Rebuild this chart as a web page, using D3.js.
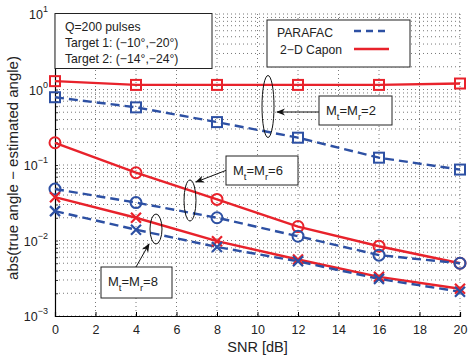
<!DOCTYPE html>
<html><head><meta charset="utf-8">
<script src="https://cdn.jsdelivr.net/npm/d3@7"></script>
<style>body{margin:0;background:#fff}svg{display:block;font-family:"Liberation Sans",Arial,sans-serif}</style>
</head><body><svg id="c" width="468" height="358"></svg>
<script>
const snr = [0, 4, 8, 12, 16, 20];
const xTicks = [0, 2, 4, 6, 8, 10, 12, 14, 16, 18, 20];
const yTickExp = [-3, -2, -1, 0, 1];
const caponM2 = [1.29, 1.15, 1.15, 1.15, 1.15, 1.2];
const parafacM2 = [0.79, 0.58, 0.37, 0.23, 0.125, 0.087];
const caponM6 = [0.197, 0.079, 0.035, 0.0153, 0.0084, 0.005];
const parafacM6 = [0.048, 0.0318, 0.020, 0.0114, 0.0064, 0.005];
const caponM8 = [0.0375, 0.020, 0.0098, 0.0056, 0.0033, 0.0023];
const parafacM8 = [0.0245, 0.0139, 0.0082, 0.0053, 0.0031, 0.0021];
const legendLabels = ["PARAFAC", "2\u2212D Capon"];
const infoLines = ["Q=200 pulses", "Target 1: (\u221210\u00b0,\u221220\u00b0)", "Target 2: (\u221214\u00b0,\u221224\u00b0)"];
const annoValues = ["2", "6", "8"];

const RED = "#e8222b", BLUE = "#2d50a3";
const L = 55, R = 460, T = 14, B = 316;
const svg = d3.select("#c");
const x = d3.scaleLinear().domain([0, 20]).range([L, R]);
const y = d3.scaleLog().domain([1e-3, 10]).range([B, T]);

// grid
const g = svg.append("g");
const minorY = [];
for (let e = -3; e < 1; e++) for (let k = 1; k < 10; k++) minorY.push(k * Math.pow(10, e));
minorY.push(10);
g.selectAll("line.gy").data(minorY).enter().append("line")
  .attr("x1", L).attr("x2", R).attr("y1", d => y(d)).attr("y2", d => y(d))
  .attr("stroke", "#555").attr("stroke-width", 0.8).attr("stroke-dasharray", "1,3");
g.selectAll("line.gx").data(xTicks.slice(1)).enter().append("line")
  .attr("y1", T).attr("y2", B).attr("x1", d => x(d)).attr("x2", d => x(d))
  .attr("stroke", "#555").attr("stroke-width", 0.8).attr("stroke-dasharray", "1,3");

// axes
const xa = svg.append("g").attr("transform", `translate(0,${B})`)
  .call(d3.axisBottom(x).tickValues(xTicks).tickSize(-4).tickPadding(9).tickFormat(d3.format("d")));
xa.select(".domain").attr("stroke-width", 1.2);
xa.selectAll("text").attr("font-size", 12.5).attr("fill", "#222").attr("font-family", "Liberation Sans, Arial");
const ya = svg.append("g").attr("transform", `translate(${L},0)`)
  .call(d3.axisLeft(y).tickValues(minorY).tickSize(-3).tickFormat(""));
ya.select(".domain").attr("stroke-width", 1.2);
ya.selectAll(".tick line").attr("stroke-width", 0.8);
const yl = svg.append("g");
yTickExp.forEach(e => {
  const t = yl.append("text").attr("x", L - 7).attr("y", y(Math.pow(10, e)) + 5)
    .attr("text-anchor", "end").attr("fill", "#222").attr("font-size", 12.5);
  t.append("tspan").text("10");
  t.append("tspan").attr("dy", -7).attr("font-size", 9).text(e < 0 ? "\u2212" + (-e) : String(e));
});
svg.append("line").attr("x1", L).attr("x2", L + 4).attr("y1", T).attr("y2", T).attr("stroke", "#000");

svg.append("text").attr("transform", `translate(18,168) rotate(-90)`)
  .attr("text-anchor", "middle").attr("font-size", 15).attr("fill", "#222")
  .text("abs(true angle \u2212 estimated angle)");
svg.append("text").attr("x", (L + R) / 2).attr("y", 352).attr("text-anchor", "middle")
  .attr("font-size", 14.5).attr("fill", "#222").text("SNR [dB]");

// series
const series = [
  {v: caponM2, c: RED, dash: null, m: "square"},
  {v: parafacM2, c: BLUE, dash: "9,5", m: "square"},
  {v: caponM6, c: RED, dash: null, m: "circle"},
  {v: parafacM6, c: BLUE, dash: "9,5", m: "circle"},
  {v: caponM8, c: RED, dash: null, m: "x"},
  {v: parafacM8, c: BLUE, dash: "9,5", m: "x"}
];
const line = d3.line().x((d, i) => x(snr[i])).y(d => y(d));
const sg = svg.append("g");
series.forEach(s => {
  sg.append("path").datum(s.v).attr("d", line).attr("fill", "none")
    .attr("stroke", s.c).attr("stroke-width", 2.4).attr("stroke-dasharray", s.dash);
});
series.forEach(s => {
  const mg = sg.append("g");
  s.v.forEach((d, i) => {
    const cx = x(snr[i]), cy = y(d);
    if (s.m === "square") {
      mg.append("rect").attr("x", cx - 5).attr("y", cy - 5).attr("width", 10).attr("height", 10)
        .attr("fill", "none").attr("stroke", s.c).attr("stroke-width", 2);
    } else if (s.m === "circle") {
      mg.append("circle").attr("cx", cx).attr("cy", cy).attr("r", 5.5)
        .attr("fill", "none").attr("stroke", s.c).attr("stroke-width", 2);
    } else {
      mg.append("path").attr("d", `M${cx - 5},${cy - 5}L${cx + 5},${cy + 5}M${cx - 5},${cy + 5}L${cx + 5},${cy - 5}`)
        .attr("stroke", s.c).attr("stroke-width", 2.2);
    }
  });
});

// info box
const ib = svg.append("g");
ib.append("rect").attr("x", L).attr("y", 13.5).attr("width", 157).attr("height", 55)
  .attr("fill", "#fff").attr("stroke", "#222").attr("stroke-width", 1);
infoLines.forEach((t, i) => ib.append("text").attr("x", 65).attr("y", 31 + i * 16)
  .attr("font-size", 12.2).attr("fill", "#222").text(t));

// legend
const lg = svg.append("g");
lg.append("rect").attr("x", 267).attr("y", 20).attr("width", 143).attr("height", 47)
  .attr("fill", "#fff").attr("stroke", "#222").attr("stroke-width", 1);
lg.append("text").attr("x", 277).attr("y", 37).attr("font-size", 12.2).attr("fill", "#222").text(legendLabels[0]);
lg.append("text").attr("x", 280).attr("y", 54).attr("font-size", 12.2).attr("fill", "#222").text(legendLabels[1]);
lg.append("line").attr("x1", 354).attr("x2", 389).attr("y1", 31).attr("y2", 31)
  .attr("stroke", BLUE).attr("stroke-width", 2.4).attr("stroke-dasharray", "7,5");
lg.append("line").attr("x1", 354).attr("x2", 389).attr("y1", 49).attr("y2", 49)
  .attr("stroke", RED).attr("stroke-width", 2.4);

// annotations
svg.append("defs").append("marker").attr("id", "ah").attr("viewBox", "0 0 10 10")
  .attr("refX", 9).attr("refY", 5).attr("markerWidth", 9).attr("markerHeight", 9)
  .attr("orient", "auto").attr("markerUnits", "userSpaceOnUse")
  .append("path").attr("d", "M0,1L10,5L0,9L3,5Z").attr("fill", "#111");
const annos = [
  {bx: 319, by: 96, bw: 73, bh: 29, ex: 268, ey: 106.5, rx: 6, ry: 31, ax1: 319, ay1: 112, ax2: 277, ay2: 112},
  {bx: 226, by: 156, bw: 72, bh: 29, ex: 190, ey: 200.5, rx: 6, ry: 20.5, ax1: 227, ay1: 170, ax2: 196, ay2: 182},
  {bx: 101, by: 267, bw: 71, bh: 31, ex: 156, ey: 229, rx: 6, ry: 15, ax1: 136, ay1: 267, ax2: 149, ay2: 244}
];
annos.forEach((a, i) => {
  const ag = svg.append("g");
  ag.append("ellipse").attr("cx", a.ex).attr("cy", a.ey).attr("rx", a.rx).attr("ry", a.ry)
    .attr("fill", "none").attr("stroke", "#111").attr("stroke-width", 1);
  ag.append("line").attr("x1", a.ax1).attr("y1", a.ay1).attr("x2", a.ax2).attr("y2", a.ay2)
    .attr("stroke", "#111").attr("stroke-width", 1).attr("marker-end", "url(#ah)");
  ag.append("rect").attr("x", a.bx).attr("y", a.by).attr("width", a.bw).attr("height", a.bh)
    .attr("fill", "#fff").attr("stroke", "#222").attr("stroke-width", 1);
  const t = ag.append("text").attr("x", a.bx + 7).attr("y", a.by + 19).attr("font-size", 13).attr("fill", "#222");
  t.append("tspan").text("M");
  t.append("tspan").attr("dy", 5).attr("font-size", 9.5).text("t");
  t.append("tspan").attr("dy", -5).text("=M");
  t.append("tspan").attr("dy", 5).attr("font-size", 9.5).text("r");
  t.append("tspan").attr("dy", -5).text("=" + annoValues[i]);
});
</script></body></html>
